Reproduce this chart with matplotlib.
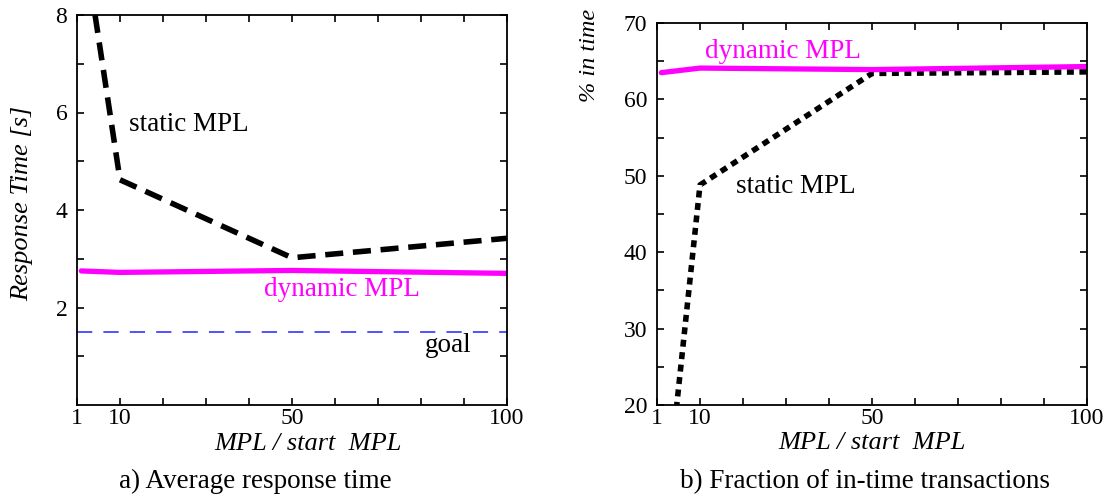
import numpy as np
import matplotlib
matplotlib.use("Agg")
import matplotlib.pyplot as plt

plt.rcParams['font.family'] = ['Liberation Serif', 'DejaVu Serif']
plt.rcParams['lines.scale_dashes'] = False

# a) average response time
mpl_static_a = [4.2, 10, 50, 100]
resp_static = [8.0, 4.62, 3.02, 3.42]
mpl_dyn_a = [1, 10, 50, 100]
resp_dyn = [2.75, 2.72, 2.76, 2.70]
goal = 1.5

# b) fraction of in-time transactions
mpl_static_b = [4.5, 10, 50, 100]
pct_static = [19.5, 48.8, 63.4, 63.6]
mpl_dyn_b = [1, 10, 50, 100]
pct_dyn = [63.5, 64.1, 63.9, 64.3]

xticks = [0, 10, 20, 30, 40, 50, 60, 70, 80, 90, 100]
xticklabels = ['1', '10', '', '', '', '50', '', '', '', '', '100']

fig = plt.figure(figsize=(11.06, 4.96), dpi=100)
ax1 = fig.add_axes([77 / 1106, 91 / 496, 430 / 1106, 390 / 496])
ax2 = fig.add_axes([657 / 1106, 91 / 496, 430 / 1106, 382 / 496])

mag = '#ff00ff'

# left panel
l, = ax1.plot(mpl_static_a, resp_static, color='black', lw=4)
l.set_dashes((13, 7))
l.set_dash_capstyle('butt')
ax1.plot(mpl_dyn_a, resp_dyn, color=mag, lw=3.8, solid_capstyle='round')
ax1.axhline(goal, color='#2323ff', lw=1.1, dashes=(11, 8))
ax1.set_xlim(0, 100)
ax1.set_ylim(0, 8)
ax1.set_yticks([2, 4, 6, 8])
ax1.set_yticks([1, 3, 5, 7], minor=True)
ax1.text(12, 5.75, 'static MPL', fontsize=19.5, va='center')
ax1.text(43.5, 2.36, 'dynamic MPL', fontsize=19.5, va='center', color=mag)
ax1.text(81, 1.23, 'goal', fontsize=19.5, va='center')
ax1.set_ylabel('Response Time [s]', fontsize=19, style='italic', va='center')
ax1.yaxis.set_label_coords(-0.128, 0.518)
ax1.set_xlabel('MPL / start  MPL', fontsize=19, style='italic', va='center')
ax1.xaxis.set_label_coords(0.537, -0.1)

# right panel
l2, = ax2.plot(mpl_static_b, pct_static, color='black', lw=4)
l2.set_dashes((5, 4))
l2.set_dash_capstyle('butt')
ax2.plot(mpl_dyn_b, pct_dyn, color=mag, lw=3.8, solid_capstyle='round')
ax2.set_xlim(0, 100)
ax2.set_ylim(20, 70)
ax2.set_yticks([20, 30, 40, 50, 60, 70])
ax2.set_yticks([25, 35, 45, 55, 65], minor=True)
ax2.text(11.2, 66.3, 'dynamic MPL', fontsize=19.5, va='center', color=mag)
ax2.text(18.3, 48.6, 'static MPL', fontsize=19.5, va='center')
ax2.set_ylabel('% in time', fontsize=17.5, style='italic', va='center')
ax2.yaxis.set_label_coords(-0.156, 0.914)
ax2.set_xlabel('MPL / start  MPL', fontsize=19, style='italic', va='center')
ax2.xaxis.set_label_coords(0.5, -0.1)

for ax in (ax1, ax2):
    ax.set_xticks(xticks)
    ax.set_xticklabels(xticklabels)
    ax.tick_params(which='both', direction='in', top=True, right=True,
                   labelsize=17, width=1.2)
    ax.tick_params(which='major', length=5)
    ax.tick_params(axis='x', which='major', pad=2)
    ax.tick_params(axis='y', which='major', pad=7)
    ax.tick_params(which='minor', length=5)
    for s in ax.spines.values():
        s.set_linewidth(1.3)

fig.text(0.231, 0.03, 'a) Average response time', fontsize=19.5, ha='center', va='center')
fig.text(0.782, 0.03, 'b) Fraction of in-time transactions', fontsize=19.5, ha='center', va='center')

fig.savefig('out.png', dpi=100)
